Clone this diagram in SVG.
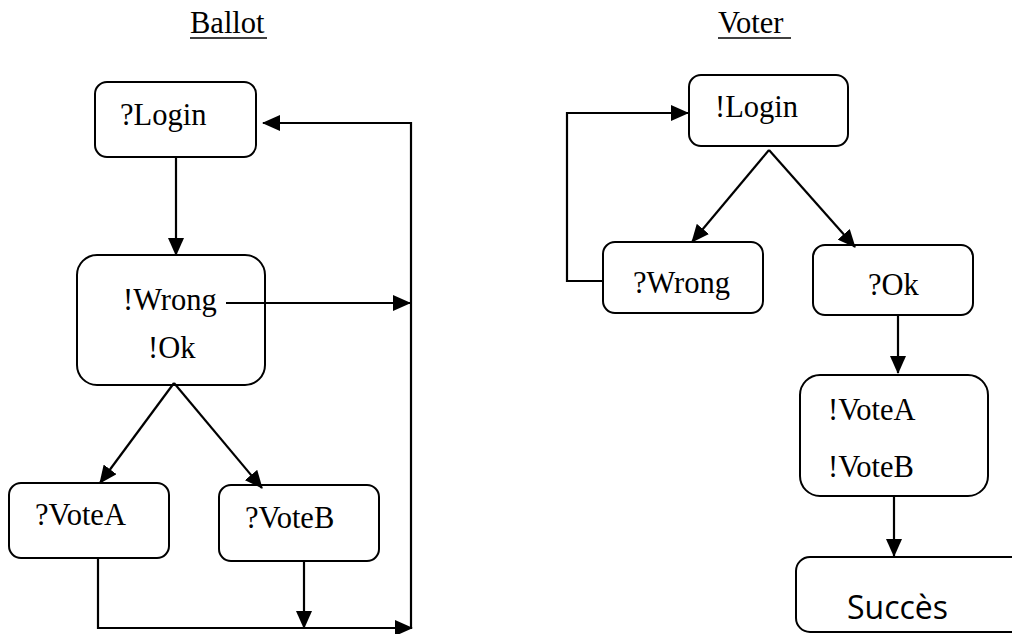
<svg xmlns="http://www.w3.org/2000/svg" width="1012" height="634" viewBox="0 0 1012 634">
  <defs>
    <marker id="arrow" markerUnits="userSpaceOnUse" markerWidth="18" markerHeight="16" refX="17" refY="8" orient="auto">
      <path d="M0,0 L18,8 L0,16 z" fill="#000"/>
    </marker>
    <style>
      .box { fill: #fff; stroke: #000; stroke-width: 2; }
      .lbl { font-family: "Liberation Serif", "Times New Roman", serif; font-size: 30.5px; fill: #000; }
      .sans { font-family: "Open Sans", "Liberation Sans", sans-serif; font-size: 32px; fill: #000; }
      .title { font-family: "Liberation Serif", "Times New Roman", serif; font-size: 30.5px; fill: #000; }
      .ul { stroke: #000; stroke-width: 1.5; }
      .edge { fill: none; stroke: #000; stroke-width: 2.2; }
      .arr { marker-end: url(#arrow); }
    </style>
  </defs>
  <rect width="1012" height="634" fill="#fff"/>

  <!-- column headings -->
  <g id="titles">
    <text class="title" x="190" y="33">Ballot</text>
    <line class="ul" x1="190" y1="38" x2="267" y2="38"/>
    <text class="title" x="718" y="33">Voter</text>
    <line class="ul" x1="718" y1="38" x2="791" y2="38"/>
  </g>

  <!-- Ballot process -->
  <g id="b-login">
    <rect class="box" x="95" y="82" width="161" height="75" rx="12"/>
    <text class="lbl" x="120" y="125">?Login</text>
  </g>
  <g id="b-check">
    <rect class="box" x="77" y="255" width="188" height="130" rx="20"/>
    <text class="lbl" x="123" y="310">!Wrong</text>
    <text class="lbl" x="148" y="358">!Ok</text>
  </g>
  <g id="b-votea">
    <rect class="box" x="9" y="483" width="160" height="75" rx="12"/>
    <text class="lbl" x="35" y="525">?VoteA</text>
  </g>
  <g id="b-voteb">
    <rect class="box" x="219" y="485" width="160" height="76" rx="12"/>
    <text class="lbl" x="245" y="528">?VoteB</text>
  </g>

  <!-- Voter process -->
  <g id="v-login">
    <rect class="box" x="689" y="75" width="159" height="71" rx="12"/>
    <text class="lbl" x="715" y="117">!Login</text>
  </g>
  <g id="v-wrong">
    <rect class="box" x="603" y="242" width="160" height="71" rx="12"/>
    <text class="lbl" x="633" y="293">?Wrong</text>
  </g>
  <g id="v-ok">
    <rect class="box" x="813" y="245" width="160" height="70" rx="12"/>
    <text class="lbl" x="868" y="295">?Ok</text>
  </g>
  <g id="v-vote">
    <rect class="box" x="800" y="375" width="188" height="121" rx="20"/>
    <text class="lbl" x="828" y="420">!VoteA</text>
    <text class="lbl" x="828" y="477">!VoteB</text>
  </g>
  <g id="v-success">
    <rect class="box" x="796" y="557" width="240" height="75" rx="14"/>
    <text class="sans" x="847" y="619">Succès</text>
  </g>

  <!-- connectors -->
  <g id="connectors">
    <!-- Ballot -->
    <path class="edge arr" d="M176,157 V255"/>
    <path class="edge arr" d="M226,303 H410"/>
    <path class="edge arr" d="M411,628 V123 H263"/>
    <path class="edge arr" d="M174,383 L100,483"/>
    <path class="edge arr" d="M174,383 L262,488"/>
    <path class="edge arr" d="M98,558 V628 H412"/>
    <path class="edge arr" d="M304,561 V628"/>
    <!-- Voter -->
    <path class="edge arr" d="M603,281 H567 V113 H688"/>
    <path class="edge arr" d="M769,150 L692,242"/>
    <path class="edge arr" d="M769,150 L855,247"/>
    <path class="edge arr" d="M898,315 V373"/>
    <path class="edge arr" d="M894,496 V556"/>
  </g>
</svg>
